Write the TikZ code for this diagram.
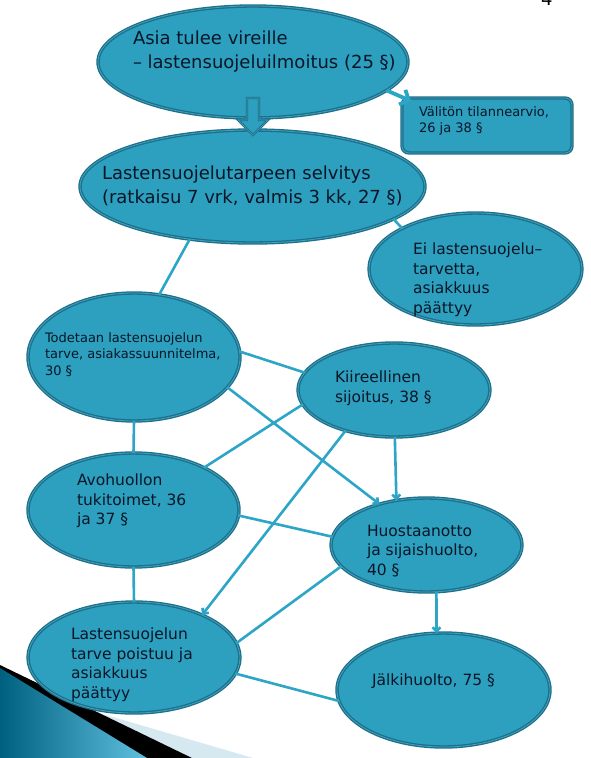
\documentclass[tikz,border=0pt]{standalone}
\usepackage{fontspec}
\setmainfont{DejaVu Sans}
\usetikzlibrary{shapes.geometric,arrows.meta,calc}
\definecolor{ellfill}{RGB}{44,160,190}
\definecolor{elledge}{RGB}{28,112,138}
\definecolor{ellmid}{RGB}{66,160,188}
\definecolor{linec}{RGB}{44,165,198}
\definecolor{txtc}{RGB}{10,22,40}
\definecolor{bandlight}{RGB}{214,232,240}
\definecolor{tealdark}{RGB}{0,96,128}
\definecolor{teallight}{RGB}{95,192,224}
\begin{document}
\begin{tikzpicture}[x=1pt,y=-1pt,
 ell/.style={ellipse, fill=ellfill, draw=elledge, line width=1.3pt, double=ellmid, double distance=0.8pt, inner sep=0pt, outer sep=0pt},
 boxstyle/.style={rectangle, rounded corners=7pt, fill=ellfill, draw=elledge, line width=1.3pt, double=ellmid, double distance=0.8pt, inner sep=0pt, outer sep=0pt},
 conn/.style={draw=linec, line width=2.6pt},
 conna/.style={conn, -{Straight Barb[length=4pt,width=8pt]}},
 lbl/.style={anchor=north west, inner sep=0pt, outer sep=0pt, align=left, text=txtc},
 big/.style={font=\fontsize{18}{23.5}\selectfont},
 mid/.style={font=\fontsize{15.5}{19.5}\selectfont},
 sml/.style={font=\fontsize{13}{16.3}\selectfont},
]
\useasboundingbox[fill=white] (0,0) rectangle (590,758);

% corner decoration
\fill[bandlight] (0,684) -- (253,758) -- (0,758) -- cycle;
\fill[black] (0,665) -- (192,758) -- (0,758) -- cycle;
\shade[left color=tealdark, right color=teallight] (0,668) -- (147,758) -- (0,758) -- cycle;

% page number
\node[anchor=base west, inner sep=0pt, font=\fontsize{18}{20}\selectfont] (pg) at (541,5) {4};

% ellipses
\node[ell, minimum width=310pt, minimum height=112pt] (e1) at (253,62) {};
\node[ell, minimum width=345pt, minimum height=113pt] (e2) at (252.5,186.5) {};
\node[boxstyle, minimum width=170pt, minimum height=55pt] (r) at (487,125.5) {};
\node[ell, minimum width=213pt, minimum height=112pt] (e4) at (475.5,269) {};
\node[ell, minimum width=212pt, minimum height=128pt] (e5) at (134,357) {};
\node[ell, minimum width=192pt, minimum height=94pt] (e6) at (394,390) {};
\node[ell, minimum width=211pt, minimum height=114pt] (e7) at (133.5,510) {};
\node[ell, minimum width=191pt, minimum height=94pt] (e8) at (426.5,545) {};
\node[ell, minimum width=212pt, minimum height=111pt] (e9) at (134,657.5) {};
\node[ell, minimum width=213pt, minimum height=114pt] (e10) at (443.5,690) {};

% connectors
\draw[conn] (e2.-140.9) -- (e5.68);
\draw[conn] (e2.-13.2) -- (e4.151.6);
\draw[conn] (e5.3) -- (e6.169.2);
\draw[conna] (e5.-18.2) -- (e8.139.1);
\draw[conn] (e5.-90) -- (e7.90);
\draw[conn] (e6.-171.7) -- (e7.31.1);
\draw[conna] (e6.-140.4) -- (e9.32.8);
\draw[conna] (e6.-89) -- (e8.124.5);
\draw[conn] (e7.-3.9) -- (e8.175);
\draw[conn] (e7.-90) -- (e9.90);
\draw[conn] (e8.-166.7) -- (e9.8.9);
\draw[conn] (e9.-9.8) -- (e10.-174.3);
\draw[conna] (e8.-78.6) -- (e10.97.5);

% block arrow between top ellipses
\filldraw[fill=ellfill, draw=elledge, line width=0.9pt, double=ellmid, double distance=0.6pt]
  (247,98) -- (259,98) -- (259,120) -- (268,120) -- (253,135) -- (238,120) -- (247,120) -- cycle;

% arrow to box
\draw[draw=linec, line width=3.8pt, -{Straight Barb[length=7pt,width=16pt]}] (e1.-12.2) -- ($(r.north west)+(9,3)$);

% texts
\node[lbl, big] (t1) at (133,31.3) {Asia tulee vireille\\– lastensuojeluilmoitus (25 §)};
\node[lbl, big] (t2) at (102,166.3) {Lastensuojelutarpeen selvitys\\(ratkaisu 7 vrk, valmis 3 kk, 27 §)};
\node[lbl, sml] (tr) at (419,106.8) {Välitön tilannearvio,\\26 ja 38 §};
\node[lbl, mid] (t4) at (413,243.2) {Ei lastensuojelu–\\tarvetta,\\asiakkuus\\päättyy};
\node[lbl, font=\fontsize{13}{16.5}\selectfont] (t5) at (45,332.4) {Todetaan lastensuojelun\\tarve, asiakassuunnitelma,\\30 §};
\node[lbl, mid] (t6) at (335,370.9) {Kiireellinen\\sijoitus, 38 §};
\node[lbl, mid] (t7) at (77,474.2) {Avohuollon\\tukitoimet, 36\\ja 37 §};
\node[lbl, mid] (t8) at (367,524.9) {Huostaanotto\\ja sijaishuolto,\\40 §};
\node[lbl, mid] (t9) at (71,628.2) {Lastensuojelun\\tarve poistuu ja\\asiakkuus\\päättyy};
\node[lbl, mid] (t10) at (372,674.2) {Jälkihuolto, 75 §};
\end{tikzpicture}
\end{document}
